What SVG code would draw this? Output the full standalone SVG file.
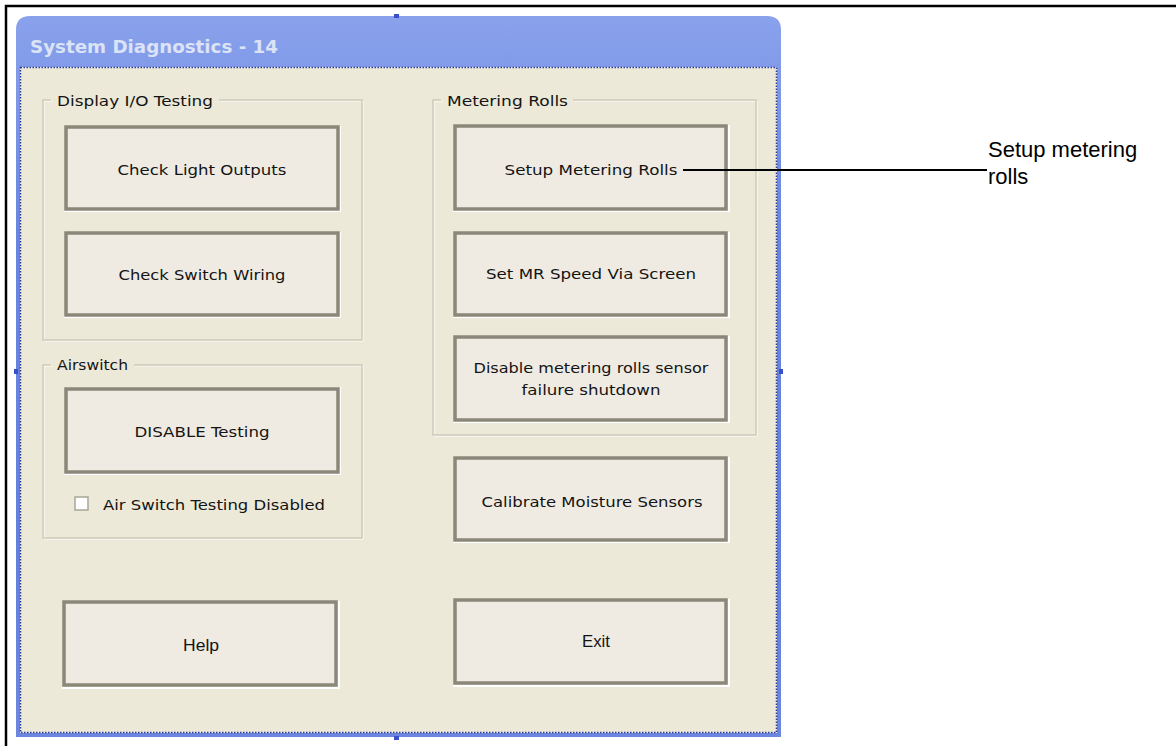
<svg xmlns="http://www.w3.org/2000/svg" width="1176" height="746" viewBox="0 0 1176 746">
<defs>
<linearGradient id="tb" x1="0" y1="0" x2="0" y2="1">
<stop offset="0" stop-color="#8aa2ec"/>
<stop offset="0.3" stop-color="#6886e1"/>
<stop offset="0.75" stop-color="#6280de"/>
<stop offset="1" stop-color="#6d87e0"/>
</linearGradient>
<style>
.frame{stroke:#000;stroke-width:2.5;fill:none}
.btn{fill:#efebe2;stroke:#8b887a;stroke-width:3.5}
.hl{stroke:#ffffff;stroke-width:2;fill:none}
.gb{fill:none;stroke:#cdcabb;stroke-width:1.5}
.gbw{fill:none;stroke:#ffffff;stroke-width:1}
.t{font-family:"DejaVu Sans",sans-serif;font-size:14.5px;fill:#141414}
.ta{font-family:"Liberation Sans",Arial,sans-serif;font-size:16px;fill:#141414}
.c{text-anchor:middle}
.lbl{font-family:"Liberation Sans",Arial,sans-serif;font-size:22px;fill:#000}
.handle{fill:#3a50c8}
</style>
</defs>
<rect x="0" y="0" width="1176" height="746" fill="#ffffff"/>
<path class="frame" d="M6 746 V6 H1176"/>

<g id="window">
<path d="M16 30 Q16 16 30 16 H767 Q781 16 781 30 V737 H16 Z" fill="url(#tb)"/>
<rect x="20" y="67" width="757" height="666" fill="#ece9d8"/>
<rect x="20.5" y="67.5" width="756" height="665" fill="none" stroke="#2a3a9a" stroke-width="1.5" stroke-dasharray="1.5 1.5"/>
<text x="30" y="53" font-family="DejaVu Sans, sans-serif" font-weight="bold" font-size="18" fill="#dbe3f6" textLength="248" lengthAdjust="spacingAndGlyphs">System Diagnostics - 14</text>
<rect class="handle" x="394" y="14" width="5" height="4"/>
<rect class="handle" x="394" y="736" width="5" height="4"/>
<rect class="handle" x="14" y="369" width="4" height="5"/>
<rect class="handle" x="779" y="369" width="4" height="5"/>
</g>

<g id="group-display-io">
<path class="gbw" d="M52 101 H44 V341 H363 V101 H220"/>
<path class="gb" d="M51 100 H43 V340 H362 V100 H219"/>
<text class="t" x="57" y="106" textLength="156" lengthAdjust="spacingAndGlyphs">Display I/O Testing</text>
</g>

<g id="group-airswitch">
<path class="gbw" d="M52 366 H44 V539 H363 V366 H135"/>
<path class="gb" d="M51 365 H43 V538 H362 V365 H134"/>
<text class="t" x="57" y="370" textLength="71" lengthAdjust="spacingAndGlyphs">Airswitch</text>
</g>

<g id="group-metering">
<path class="gbw" d="M442 101 H434 V436 H757 V101 H574"/>
<path class="gb" d="M441 100 H433 V435 H756 V100 H573"/>
<text class="t" x="447" y="106" textLength="121" lengthAdjust="spacingAndGlyphs">Metering Rolls</text>
</g>

<g id="btn-check-light">
<path class="hl" d="M64 211 H340 V126"/>
<rect class="btn" x="66" y="127" width="272" height="82"/>
<text class="t c" x="202" y="175" textLength="169" lengthAdjust="spacingAndGlyphs">Check Light Outputs</text>
</g>

<g id="btn-check-switch">
<path class="hl" d="M64 317 H340 V232"/>
<rect class="btn" x="66" y="233" width="272" height="82"/>
<text class="t c" x="202" y="280" textLength="167" lengthAdjust="spacingAndGlyphs">Check Switch Wiring</text>
</g>

<g id="btn-disable-testing">
<path class="hl" d="M64 474 H340 V387"/>
<rect class="btn" x="66" y="389" width="272" height="83"/>
<text class="t c" x="202" y="437" textLength="135" lengthAdjust="spacingAndGlyphs">DISABLE Testing</text>
</g>

<g id="chk-air-switch">
<rect x="75" y="497" width="13" height="13" fill="#ffffff" stroke="#a9a699" stroke-width="1.5"/>
<text class="t" x="103" y="510" textLength="222" lengthAdjust="spacingAndGlyphs">Air Switch Testing Disabled</text>
</g>

<g id="btn-help">
<path class="hl" d="M62 688 H339 V601"/>
<rect class="btn" x="64" y="602" width="272" height="83"/>
<text class="ta c" x="201" y="651" textLength="36" lengthAdjust="spacingAndGlyphs">Help</text>
</g>

<g id="btn-setup-mr">
<path class="hl" d="M453 211 H729 V125"/>
<rect class="btn" x="455" y="126" width="271" height="83"/>
<text class="t c" x="591" y="175" textLength="173" lengthAdjust="spacingAndGlyphs">Setup Metering Rolls</text>
</g>

<g id="btn-set-mr-speed">
<path class="hl" d="M453 317 H729 V232"/>
<rect class="btn" x="455" y="233" width="271" height="82"/>
<text class="t c" x="591" y="279" textLength="210" lengthAdjust="spacingAndGlyphs">Set MR Speed Via Screen</text>
</g>

<g id="btn-disable-mr">
<path class="hl" d="M453 422 H729 V336"/>
<rect class="btn" x="455" y="337" width="271" height="83"/>
<text class="t c" x="591" y="373" textLength="235" lengthAdjust="spacingAndGlyphs">Disable metering rolls sensor</text>
<text class="t c" x="591" y="395" textLength="139" lengthAdjust="spacingAndGlyphs">failure shutdown</text>
</g>

<g id="btn-calibrate">
<path class="hl" d="M453 542 H729 V457"/>
<rect class="btn" x="455" y="458" width="271" height="82"/>
<text class="t c" x="592" y="507" textLength="221" lengthAdjust="spacingAndGlyphs">Calibrate Moisture Sensors</text>
</g>

<g id="btn-exit">
<path class="hl" d="M453 686 H729 V599"/>
<rect class="btn" x="455" y="600" width="271" height="83"/>
<text class="ta c" x="596" y="647" textLength="28" lengthAdjust="spacingAndGlyphs">Exit</text>
</g>

<g id="connectors">
<line x1="683" y1="170" x2="987" y2="170" stroke="#000" stroke-width="2"/>
</g>

<g id="callout-label">
<text class="lbl" x="988" y="157">Setup metering</text>
<text class="lbl" x="988" y="184">rolls</text>
</g>
</svg>
